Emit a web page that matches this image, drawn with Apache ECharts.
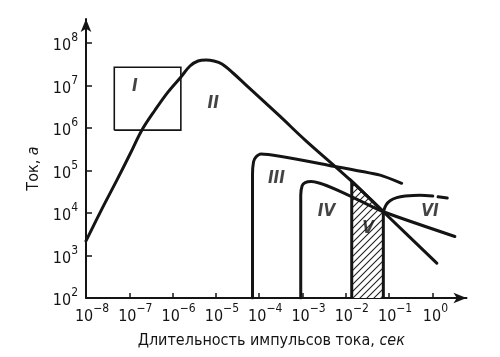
<!DOCTYPE html>
<html>
<head>
<meta charset="utf-8">
<script src="https://cdn.jsdelivr.net/npm/echarts@6/dist/echarts.min.js"></script>
<style>
html,body{margin:0;padding:0;background:#fff;}
#c{width:500px;height:357px;}
</style>
</head>
<body>
<div id="c"></div>
<script>
// ---- data (time in s, current in A) ----
const xTickExps = [-8, -7, -6, -5, -4, -3, -2, -1, 0];
const yTickExps = [2, 3, 4, 5, 6, 7, 8];
const xTitle = 'Длительность импульсов тока, ';
const xTitleUnit = 'сек';
const yTitle = 'Ток, ';
const yTitleUnit = 'а';

const regionI = [[4.5e-8, 8.9e5], [4.5e-8, 2.7e7], [1.55e-6, 2.7e7], [1.55e-6, 8.9e5], [4.5e-8, 8.9e5]];
const curveII = [
  [1e-8, 2.2e3], [2.2e-8, 1.11e4], [5.2e-8, 6.0e4], [1.04e-7, 2.44e5], [1.96e-7, 9.0e5],
  [3.93e-7, 2.65e6], [7.8e-7, 7.0e6], [1.56e-6, 1.59e7], [2.52e-6, 2.88e7], [3.86e-6, 3.77e7],
  [5.9e-6, 3.98e7], [9.0e-6, 3.77e7], [1.38e-5, 3.2e7], [2.48e-5, 1.97e7], [4.7e-5, 1.08e7],
  [3.0e-4, 1.9e6], [1.15e-3, 5.2e5], [1.26e-2, 6.0e4], [7.35e-2, 1.07e4], [1.26, 6.6e2]
];
const curveIII = [
  [7.0e-5, 1e2], [7.0e-5, 7.8e4], [7.4e-5, 1.6e5], [8.5e-5, 2.1e5], [1.1e-4, 2.45e5],
  [4.4e-3, 1.3e5], [6.2e-2, 7.8e4], [0.195, 5.0e4]
];
const curveIV = [
  [9.1e-4, 1e2], [9.1e-4, 2.6e4], [9.8e-4, 4.4e4], [1.15e-3, 5.2e4], [1.58e-3, 5.5e4],
  [7.35e-2, 1.07e4], [3.3, 2.8e3]
];
const regionV = [[1.37e-2, 1e2], [1.37e-2, 5.6e4], [7.35e-2, 1.07e4], [7.35e-2, 1e2]];
const curveVI = [
  [7.35e-2, 1.07e4], [8.5e-2, 1.55e4], [0.105, 1.95e4], [0.15, 2.3e4], [0.235, 2.5e4],
  [0.51, 2.63e4], [1.02, 2.5e4]
];
const curveVIdash = [[1.35, 2.4e4], [2.2, 2.25e4]];
const regionLabels = [
  {name: 'I', value: [1.35e-7, 9.3e6]},
  {name: 'II', value: [8.7e-6, 3.8e6]},
  {name: 'III', value: [2.5e-4, 6.6e4]},
  {name: 'IV', value: [3.6e-3, 1.07e4]},
  {name: 'V', value: [3.3e-2, 4.4e3]},
  {name: 'VI', value: [0.88, 1.07e4]}
];

// ---- hatch pattern ----
function hatch() {
  const s = 7;
  const cv = document.createElement('canvas');
  cv.width = s; cv.height = s;
  const ctx = cv.getContext('2d');
  ctx.fillStyle = '#fff';
  ctx.fillRect(0, 0, s, s);
  ctx.strokeStyle = '#222';
  ctx.lineWidth = 1.1;
  ctx.beginPath();
  ctx.moveTo(-1, s + 1); ctx.lineTo(s + 1, -1);
  ctx.moveTo(-1, 1); ctx.lineTo(1, -1);
  ctx.moveTo(s - 1, s + 1); ctx.lineTo(s + 1, s - 1);
  ctx.stroke();
  return cv;
}

const INK = '#141414';
const FONT = 'DejaVu Sans Condensed';
const expText = e => (e < 0 ? '\u2212' + (-e) : String(e));

const chart = echarts.init(document.getElementById('c'), null, {renderer: 'canvas'});
const lineBase = {type: 'line', showSymbol: false, symbol: 'none', silent: true,
  lineStyle: {color: INK, width: 3, cap: 'round', join: 'round'}};

chart.setOption({
  animation: false,
  backgroundColor: '#fff',
  grid: {left: 86, right: 33.5, top: 19, bottom: 59, containLabel: false},
  xAxis: {
    type: 'log', logBase: 10,
    min: 1e-8, max: Math.pow(10, 0.787),
    axisLine: {show: true, lineStyle: {color: INK, width: 2}, symbol: ['none', 'arrow'], symbolSize: [8, 13]},
    axisTick: {show: true, inside: true, length: 5, lineStyle: {color: INK, width: 1.5},
      customValues: xTickExps.filter(e => e > -8).map(e => Math.pow(10, e))},
    axisLabel: {
      show: true, margin: 5, color: INK, fontFamily: FONT,
      customValues: xTickExps.map(e => Math.pow(10, e)),
      formatter: function (v) {
        const e = Math.round(Math.log10(v));
        const ex = expText(e);
        return '{' + (ex.length > 1 ? 's2' : 's1') + '|}{b|10}{e|' + ex + '}';
      },
      rich: {
        b: {fontSize: 16, fontFamily: FONT, color: INK, lineHeight: 22, verticalAlign: 'bottom'},
        e: {fontSize: 12, fontFamily: FONT, color: INK, lineHeight: 10, verticalAlign: 'top'},
        s1: {width: 6}, s2: {width: 12}
      }
    },
    splitLine: {show: false}, minorTick: {show: false}, minorSplitLine: {show: false},
    name: '{n|' + xTitle + '}{i|' + xTitleUnit + '}',
    nameLocation: 'middle', nameGap: 35,
    nameTextStyle: {padding: [0, 10, 0, 0], rich: {
      n: {fontSize: 16, fontFamily: FONT, color: INK},
      i: {fontSize: 16, fontFamily: FONT, color: INK, fontStyle: 'italic'}
    }}
  },
  yAxis: {
    type: 'log', logBase: 10,
    min: 100, max: Math.pow(10, 8.565),
    axisLine: {show: true, lineStyle: {color: INK, width: 2}, symbol: ['none', 'arrow'], symbolSize: [8, 13]},
    axisTick: {show: true, inside: true, length: 6, lineStyle: {color: INK, width: 1.5},
      customValues: yTickExps.filter(e => e > 2).map(e => Math.pow(10, e))},
    axisLabel: {
      show: true, margin: 8, color: INK, fontFamily: FONT,
      customValues: yTickExps.map(e => Math.pow(10, e)),
      formatter: function (v) {
        const e = Math.round(Math.log10(v));
        return '{b|10}{e|' + expText(e) + '}';
      },
      rich: {
        b: {fontSize: 16, fontFamily: FONT, color: INK, lineHeight: 22, verticalAlign: 'bottom'},
        e: {fontSize: 12, fontFamily: FONT, color: INK, lineHeight: 10, verticalAlign: 'top'}
      }
    },
    splitLine: {show: false}, minorTick: {show: false}, minorSplitLine: {show: false},
    name: '{n|' + yTitle + '}{i|' + yTitleUnit + '}',
    nameLocation: 'middle', nameGap: 33, nameRotate: 90,
    nameTextStyle: {padding: [0, 20, 0, 0], rich: {
      n: {fontSize: 16, fontFamily: FONT, color: INK},
      i: {fontSize: 16, fontFamily: FONT, color: INK, fontStyle: 'italic'}
    }}
  },
  series: [
    Object.assign({}, lineBase, {name: 'V', data: regionV, z: 1,
      lineStyle: {color: INK, width: 3, join: 'miter'},
      areaStyle: {origin: 'start', opacity: 1, color: {image: hatch(), repeat: 'repeat'}}}),
    Object.assign({}, lineBase, {name: 'I', data: regionI, z: 2,
      lineStyle: {color: INK, width: 1.6, join: 'miter'}}),
    Object.assign({}, lineBase, {name: 'II', data: curveII, smooth: 0.35, z: 3}),
    Object.assign({}, lineBase, {name: 'III', data: curveIII, smooth: 0.2, z: 3}),
    Object.assign({}, lineBase, {name: 'IV', data: curveIV, smooth: 0.2, z: 3}),
    Object.assign({}, lineBase, {name: 'VI', data: curveVI, smooth: 0.35, z: 3}),
    Object.assign({}, lineBase, {name: 'VI-dash', data: curveVIdash, z: 3}),
    {
      type: 'scatter', name: 'labels', data: regionLabels, symbolSize: 0, silent: true, z: 5,
      label: {show: true, position: 'inside', formatter: '{b}', fontFamily: FONT,
        fontStyle: 'italic', fontWeight: 'bold', fontSize: 17, color: INK}
    }
  ]
});
</script>
</body>
</html>
